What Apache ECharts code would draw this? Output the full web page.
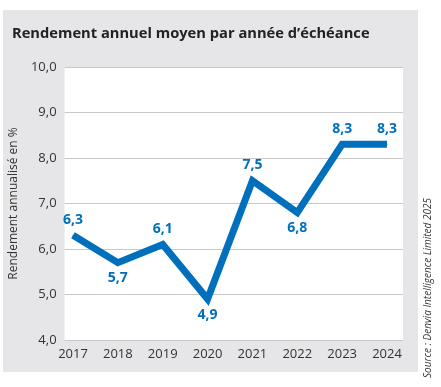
<!DOCTYPE html>
<html>
<head>
<meta charset="utf-8">
<script src="https://cdn.jsdelivr.net/npm/echarts@6/dist/echarts.min.js"></script>
<style>
html,body{margin:0;padding:0;background:#fff;}
#c{width:441px;height:387px;}
</style>
</head>
<body>
<div id="c"></div>
<script>
const years = ['2017','2018','2019','2020','2021','2022','2023','2024'];
const yields = [6.3, 5.7, 6.1, 4.9, 7.5, 6.8, 8.3, 8.3];
const yTicks = { min: 4, max: 10, interval: 1 };
const titleText = 'Rendement annuel moyen par année d\u2019échéance';
const yAxisName = 'Rendement annualisé en %';
const sourceText = 'Source : Denvia Intelligence Limited 2025';

const blue = '#0070BC';
const font = '"Open Sans", sans-serif';
const fmt = v => v.toFixed(1).replace('.', ',');

const dataPts = yields.map((v, i) => {
  const prev = i > 0 ? yields[i - 1] : -Infinity;
  const next = i < yields.length - 1 ? yields[i + 1] : -Infinity;
  const below = v < prev && v < next;
  return { value: v, label: { position: below ? 'bottom' : 'top' } };
});

const chart = echarts.init(document.getElementById('c'), null, { renderer: 'canvas' });
chart.setOption({
  animation: false,
  backgroundColor: 'transparent',
  graphic: [
    { type: 'rect', z: -10, silent: true, shape: { x: 3, y: 10, width: 415, height: 362 }, style: { fill: '#e6e6e8' } },
    { type: 'text', silent: true, x: 428, y: 288, rotation: Math.PI / 2,
      style: { text: sourceText, font: 'italic 10px "Open Sans", sans-serif', fill: '#333', align: 'center', verticalAlign: 'middle' } }
  ],
  title: {
    text: titleText, left: 7, top: 21,
    textStyle: { fontFamily: font, fontWeight: 'bold', fontSize: 14.7, color: '#222' }
  },
  grid: [
    { left: 73, right: 54, top: 67, bottom: 47 },
    { left: 55, right: 38, top: 67, bottom: 47, show: true, backgroundColor: '#fff', borderWidth: 0, z: 0 }
  ],
  xAxis: [
    { type: 'category', gridIndex: 0, data: years, boundaryGap: false,
      axisLine: { show: false }, axisTick: { show: false },
      axisLabel: { margin: 8, fontFamily: font, fontSize: 13, color: '#333' } },
    { type: 'value', gridIndex: 1, show: false, min: 0, max: 1 }
  ],
  yAxis: [
    { type: 'value', gridIndex: 0, min: yTicks.min, max: yTicks.max, interval: yTicks.interval, show: false },
    { type: 'value', gridIndex: 1, min: yTicks.min, max: yTicks.max, interval: yTicks.interval,
      axisLine: { show: false }, axisTick: { show: false },
      splitLine: { lineStyle: { color: '#c8c8c8', width: 1 } },
      axisLabel: { margin: 8, fontFamily: font, fontSize: 13, color: '#333', formatter: fmt },
      name: yAxisName, nameLocation: 'middle', nameRotate: 90, nameGap: 37,
      nameTextStyle: { fontFamily: font, fontSize: 12, color: '#333' } }
  ],
  series: [{
    type: 'line', xAxisIndex: 0, yAxisIndex: 0, data: dataPts, z: 5,
    symbol: 'circle', symbolSize: 1, showSymbol: true,
    itemStyle: { color: blue },
    lineStyle: { color: blue, width: 7, cap: 'butt', join: 'miter' },
    label: { show: true, distance: 8, color: blue, fontFamily: font, fontWeight: 'bold', fontSize: 14,
      formatter: p => fmt(p.value) },
    emphasis: { disabled: true }
  }]
});
</script>
</body>
</html>
